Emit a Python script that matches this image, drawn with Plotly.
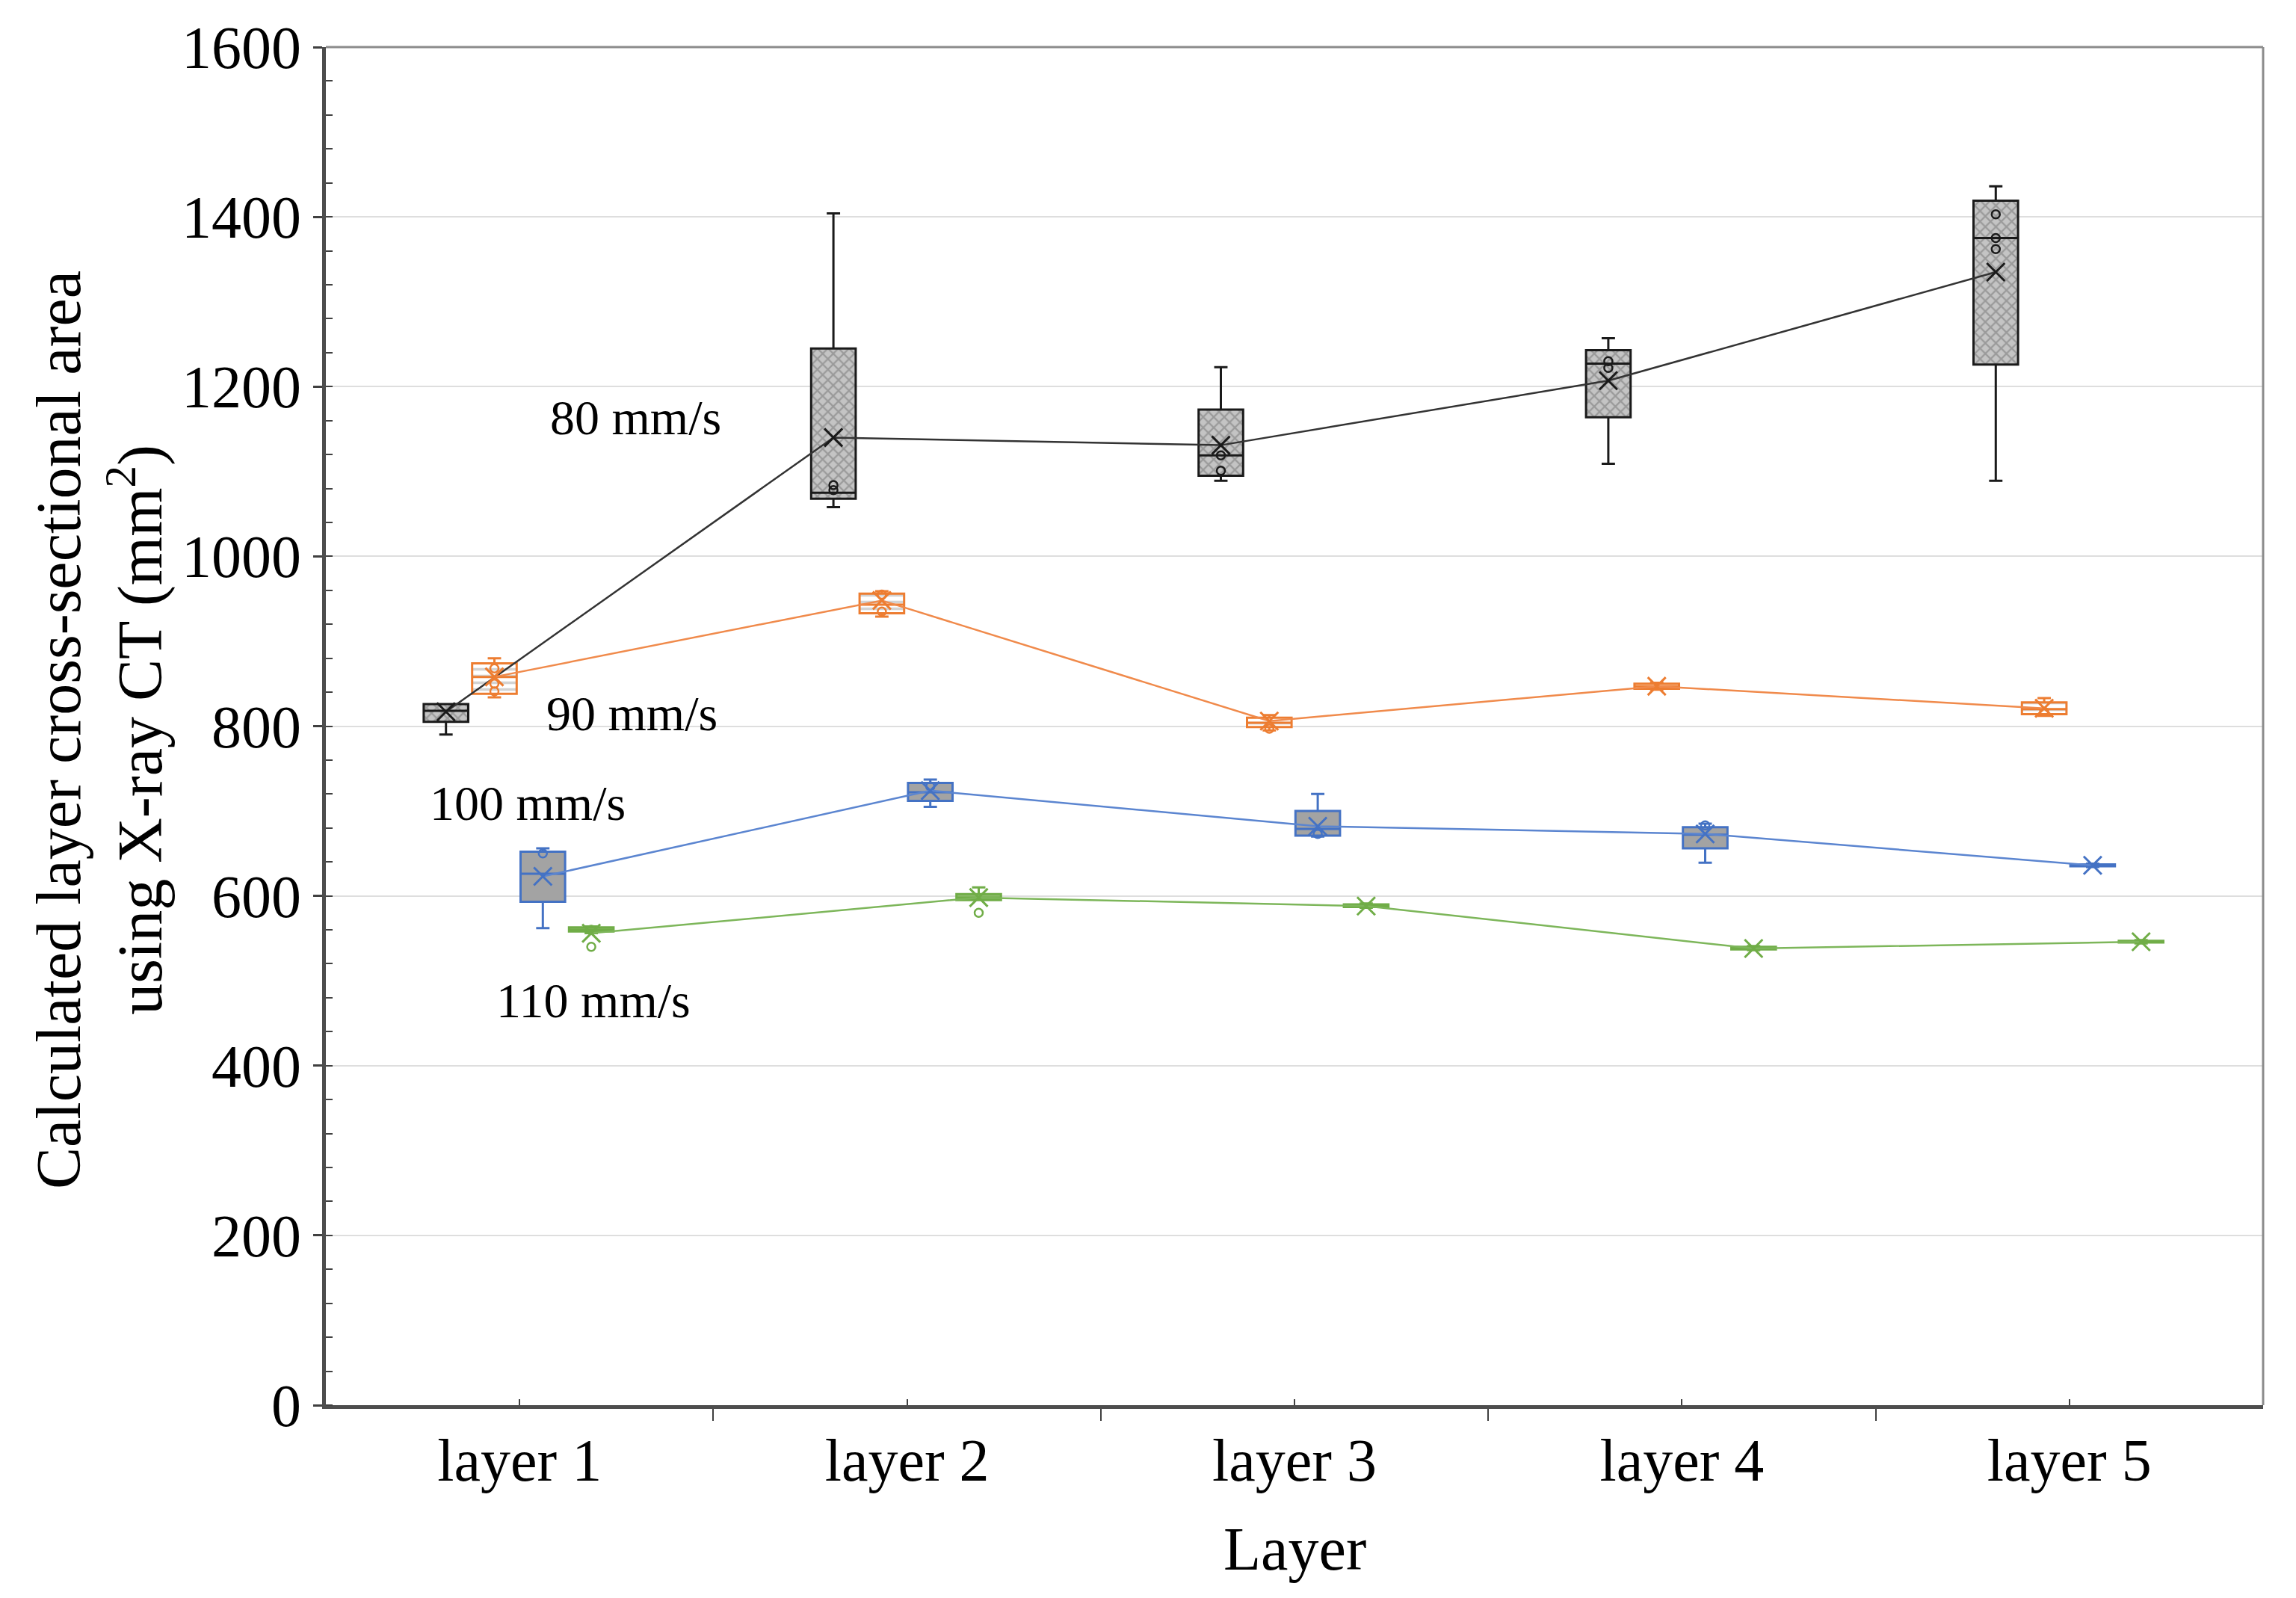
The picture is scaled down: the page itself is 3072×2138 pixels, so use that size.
import plotly.graph_objects as go

# ---------------- data ----------------
layers = ["layer 1", "layer 2", "layer 3", "layer 4", "layer 5"]
speeds = ["80 mm/s", "90 mm/s", "100 mm/s", "110 mm/s"]

# 80 mm/s
lf_80 = [790, 1058, 1089, 1109, 1089]
q1_80 = [805, 1068, 1095, 1164, 1226]
med_80 = [818, 1075, 1119, 1227, 1375]
q3_80 = [826, 1245, 1173, 1243, 1419]
uf_80 = [826, 1404, 1223, 1257, 1436]
mean_80 = [817, 1140, 1131, 1207, 1335]
pts_80 = [[], [1078, 1084], [1119, 1101], [1230, 1222], [1403, 1375, 1362]]

# 90 mm/s
lf_90 = [834, 929, 795, 843, 812]
q1_90 = [838, 933, 799, 844, 814]
med_90 = [858, 943, 804, 847, 820]
q3_90 = [874, 956, 810, 850, 828]
uf_90 = [880, 959, 813, 851, 833]
mean_90 = [858, 948, 806, 847, 821]
pts_90 = [[868, 850, 841], [955, 935], [797], [], [817]]

# 100 mm/s
lf_100 = [562, 705, 670, 639, 634]
q1_100 = [593, 712, 671, 656, 635]
med_100 = [626, 722, 679, 672, 636]
q3_100 = [652, 733, 700, 681, 637]
uf_100 = [656, 737, 720, 685, 638]
mean_100 = [623, 724, 682, 673, 636]
pts_100 = [[650], [729], [673], [683], []]

# 110 mm/s
lf_110 = [556, 595, 586, 536, 544]
q1_110 = [558, 595, 587, 537, 545]
med_110 = [560, 598, 588, 538, 546]
q3_110 = [563, 602, 590, 540, 547]
uf_110 = [564, 610, 591, 541, 548]
mean_110 = [556, 598, 588, 538, 546]
pts_110 = [[560, 540], [580], [], [], []]

y_ticks = [0, 200, 400, 600, 800, 1000, 1200, 1400, 1600]

# label positions (category units / data units)
label_x = [1.30, 1.29, 1.02, 1.19]
label_y = [1164, 815, 709, 477]

# ---------------- styling ----------------
FONT = "Liberation Serif"
offsets = [-0.19, -0.065, 0.06, 0.185]
BW = 0.115
colors = ["#1a1a1a", "#ED7D31", "#4472C4", "#70AD47"]
line_colors = ["#333333", "#F08A4B", "#5B85D0", "#7DB65A"]

series = [
    (lf_80, q1_80, med_80, q3_80, uf_80, mean_80, pts_80),
    (lf_90, q1_90, med_90, q3_90, uf_90, mean_90, pts_90),
    (lf_100, q1_100, med_100, q3_100, uf_100, mean_100, pts_100),
    (lf_110, q1_110, med_110, q3_110, uf_110, mean_110, pts_110),
]

fig = go.Figure()

centers = list(range(1, len(layers) + 1))

for i, (lf, q1, med, q3, uf, mn, pts) in enumerate(series):
    xs = [c + offsets[i] for c in centers]
    # pattern fill underlay (hatching like the original)
    if i == 0:
        fig.add_trace(go.Bar(
            x=xs, base=q1, y=[b - a for a, b in zip(q1, q3)], width=BW,
            marker=dict(color="#b8b8b8", line=dict(width=0),
                        pattern=dict(shape="x", fgcolor="#707070", bgcolor="#c4c4c4",
                                     size=10, solidity=0.4)),
            hoverinfo="skip", showlegend=False))
        fill = "rgba(0,0,0,0)"
    elif i == 1:
        fig.add_trace(go.Bar(
            x=xs, base=q1, y=[b - a for a, b in zip(q1, q3)], width=BW,
            marker=dict(color="white", line=dict(width=0),
                        pattern=dict(shape="-", fgcolor="#a8a8a8", bgcolor="white",
                                     size=9, solidity=0.4)),
            hoverinfo="skip", showlegend=False))
        fill = "rgba(0,0,0,0)"
    elif i == 2:
        fill = "#a3a3a3"
    else:
        fill = "rgba(112,173,71,0.75)"

    fig.add_trace(go.Box(
        x=xs, q1=q1, median=med, q3=q3, lowerfence=lf, upperfence=uf,
        width=BW, whiskerwidth=0.3, boxpoints=False,
        fillcolor=fill, line=dict(color=colors[i], width=3),
        name=speeds[i], showlegend=False, hoverinfo="skip"))

    # individual data points (open circles)
    px, py = [], []
    for x, p in zip(xs, pts):
        for v in p:
            px.append(x)
            py.append(v)
    fig.add_trace(go.Scatter(
        x=px, y=py, mode="markers",
        marker=dict(symbol="circle-open", size=11, color=colors[i], line=dict(width=2.5)),
        showlegend=False, hoverinfo="skip"))

    # mean markers and connecting line
    fig.add_trace(go.Scatter(
        x=xs, y=mn, mode="lines+markers",
        line=dict(color=line_colors[i], width=2.5),
        marker=dict(symbol="x-thin", size=24, color=colors[i],
                    line=dict(width=3, color=colors[i])),
        showlegend=False, hoverinfo="skip"))

for i in range(len(speeds)):
    fig.add_annotation(x=label_x[i], y=label_y[i], xref="x", yref="y",
                       text=speeds[i], showarrow=False,
                       font=dict(family=FONT, size=66, color="black"))

fig.add_annotation(x=-0.1165, y=0.497, xref="paper", yref="paper",
                   text="Calculated layer cross-sectional area<br>using X-ray CT (mm<sup>2</sup>)",
                   textangle=-90, showarrow=False, xanchor="center", yanchor="middle",
                   font=dict(family=FONT, size=84, color="black"))

fig.add_annotation(x=0.5, y=-0.106, xref="paper", yref="paper", text="Layer",
                   showarrow=False, xanchor="center", yanchor="middle",
                   font=dict(family=FONT, size=82, color="black"))

# frame (top and right)
fig.add_shape(type="line", xref="paper", yref="paper", x0=0, x1=1, y0=1, y1=1,
              line=dict(color="#8c8c8c", width=3))
fig.add_shape(type="line", xref="paper", yref="paper", x0=1, x1=1, y0=0, y1=1,
              line=dict(color="#8c8c8c", width=3))

fig.update_layout(
    width=3072, height=2138,
    margin=dict(l=428, r=52, t=42, b=266),
    paper_bgcolor="white", plot_bgcolor="white",
    barmode="overlay", showlegend=False,
    font=dict(family=FONT, color="black"),
    xaxis=dict(
        range=[0.5, 5.5], tickmode="array", tickvals=centers, ticktext=layers,
        ticks="inside", ticklen=8, tickwidth=2, tickcolor="#404040",
        minor=dict(tickmode="array", tickvals=[1.5, 2.5, 3.5, 4.5],
                   ticks="outside", ticklen=16, tickwidth=2, tickcolor="#404040"),
        showline=True, linecolor="#4d4d4d", linewidth=5,
        showgrid=False, zeroline=False,
        tickfont=dict(family=FONT, size=80, color="black"),
        ticklabelstandoff=0,
    ),
    yaxis=dict(
        range=[0, 1600], tickmode="array", tickvals=y_ticks,
        ticks="outside", ticklen=12, tickwidth=3, tickcolor="#404040",
        minor=dict(dtick=40, tick0=0, ticks="inside", ticklen=9, tickwidth=2,
                   tickcolor="#404040", showgrid=False),
        showline=True, linecolor="#4d4d4d", linewidth=5,
        showgrid=True, gridcolor="#dedede", gridwidth=2, zeroline=False,
        tickfont=dict(family=FONT, size=80, color="black"),
        ticklabeloverflow="allow",
    ),
)

fig.write_html("out.html")
